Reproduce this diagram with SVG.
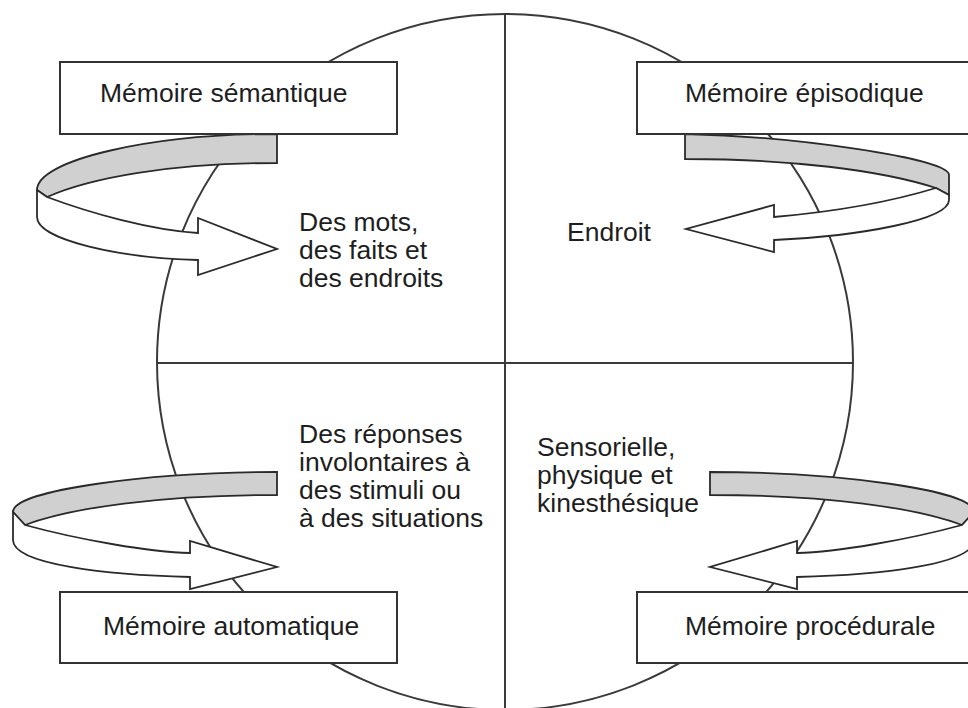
<svg xmlns="http://www.w3.org/2000/svg" width="968" height="708" viewBox="0 0 968 708">
<style>
.bg{fill:#ffffff}
.ln{fill:none;stroke:#3a3a3a;stroke-width:2}
.band{fill:#d0d0d0;stroke:#2a2a2a;stroke-width:1.8;stroke-linejoin:miter}
.front{fill:#ffffff;stroke:#2a2a2a;stroke-width:1.8;stroke-linejoin:miter}
.box{fill:#ffffff;stroke:#333333;stroke-width:2}
.t{font-family:"Liberation Sans",Arial,sans-serif;font-size:26.5px;fill:#1e1e1e}
</style>
<rect class="bg" x="0" y="0" width="968" height="708"/>
<g id="circle">
<circle class="ln" cx="505" cy="362" r="348"/>
<line class="ln" x1="505" y1="13" x2="505" y2="708"/>
<line class="ln" x1="157" y1="363" x2="853" y2="363"/>
</g>
<g id="connectors">
<g id="arrow-semantique">
<path class="band" d="M277,134 C150,134 37,160 37,190 L47,197 C90,178 170,163 277,163 Z"/>
<path class="front" d="M47,197 C90,213 150,230 198,233 L198,218 L277,249 L198,275 L198,260 C120,258 37,240 37,217 L37,190 Z"/>
</g>
<g id="arrow-episodique">
<path class="band" d="M685,134 C790,136 949,158 949,175 L949,195 L936,188 C880,170 790,159 685,159 Z"/>
<path class="front" d="M936,188 C880,205 820,213 774,217 L774,205 L686,229 L774,252 L774,240 C860,236 949,220 949,200 L949,195 Z"/>
</g>
<g id="arrow-automatique">
<path class="band" d="M277,472 C150,472 13,490 13,512 L25,525 C70,508 160,495 277,495 Z"/>
<path class="front" d="M25,525 C80,540 150,552 190,553 L190,541 L277,567 L190,589 L190,577 C110,575 13,565 13,540 L13,512 Z"/>
</g>
<g id="arrow-procedurale">
<path class="band" d="M710,472 C837,472 974,490 974,512 L962,525 C917,508 827,495 710,495 Z"/>
<path class="front" d="M962,525 C907,540 837,552 797,553 L797,541 L710,567 L797,589 L797,577 C877,575 974,565 974,540 L974,512 Z"/>
</g>
</g>
<g id="node-semantique">
<rect class="box" x="60" y="62" width="337" height="72"/>
<text class="t" x="100" y="102">Mémoire sémantique</text>
</g>
<g id="node-episodique">
<rect class="box" x="637" y="62" width="337" height="72"/>
<text class="t" x="685" y="102">Mémoire épisodique</text>
</g>
<g id="node-automatique">
<rect class="box" x="60" y="592" width="337" height="71"/>
<text class="t" x="103" y="635">Mémoire automatique</text>
</g>
<g id="node-procedurale">
<rect class="box" x="637" y="592" width="337" height="71"/>
<text class="t" x="685" y="635">Mémoire procédurale</text>
</g>
<g id="label-semantique">
<text class="t" x="299" y="231">Des mots,</text>
<text class="t" x="299" y="259">des faits et</text>
<text class="t" x="299" y="287">des endroits</text>
</g>
<g id="label-episodique">
<text class="t" x="567" y="241">Endroit</text>
</g>
<g id="label-automatique">
<text class="t" x="299" y="443">Des réponses</text>
<text class="t" x="299" y="471">involontaires à</text>
<text class="t" x="299" y="499">des stimuli ou</text>
<text class="t" x="299" y="527">à des situations</text>
</g>
<g id="label-procedurale">
<text class="t" x="537" y="456">Sensorielle,</text>
<text class="t" x="537" y="484">physique et</text>
<text class="t" x="537" y="512">kinesthésique</text>
</g>
</svg>
